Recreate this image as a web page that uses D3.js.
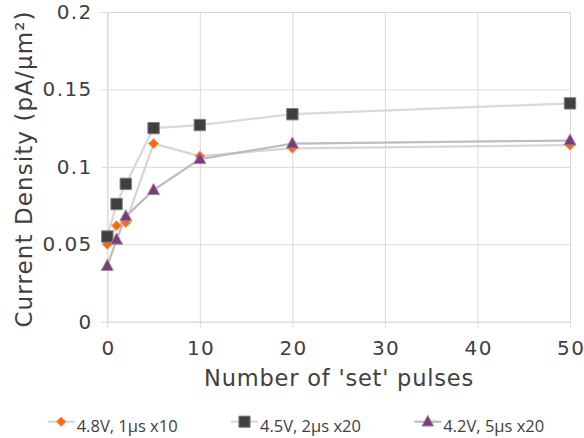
<!DOCTYPE html>
<html>
<head>
<meta charset="utf-8">
<script src="https://cdn.jsdelivr.net/npm/d3@7/dist/d3.min.js"></script>
<style>
  html, body { margin: 0; padding: 0; background: #fff; }
  svg { display: block; }
</style>
</head>
<body>
<svg id="chart" width="584" height="438"></svg>
<script>
// ---- data ----
const pulses = [0, 1, 2, 5, 10, 20, 50];
const seriesNames = ["4.8V, 1\u00b5s x10", "4.5V, 2\u00b5s x20", "4.2V, 5\u00b5s x20"];
const v48 = [0.050, 0.062, 0.064, 0.115, 0.107, 0.112, 0.114];
const v45 = [0.055, 0.076, 0.089, 0.125, 0.127, 0.134, 0.141];
const v42 = [0.036, 0.053, 0.068, 0.085, 0.105, 0.115, 0.117];
const xTicks = [0, 10, 20, 30, 40, 50];
const yTicks = [0, 0.05, 0.1, 0.15, 0.2];
const yTickLabels = ["0", "0.05", "0.1", "0.15", "0.2"];
const xTitle = "Number of 'set' pulses";
const yTitle = "Current Density (pA/\u00b5m\u00b2)";

(function () {
// ---- layout ----
const svg = d3.select("#chart");
const pLeft = 107.3, pRight = 570, pTop = 12, pBottom = 321.7;
const x = d3.scaleLinear().domain([0, 50]).range([pLeft, pRight]);
const y = d3.scaleLinear().domain([0, 0.2]).range([pBottom, pTop]);

const gridColor = "#d9d9d9";
const textColor = "#404040";
const axisFont = "'DejaVu Sans', Verdana, sans-serif";

// grid
const gx = svg.append("g").attr("transform", `translate(0,${pBottom})`)
  .call(d3.axisBottom(x).tickValues(xTicks).tickSize(-(pBottom - pTop)).tickSizeOuter(0).tickFormat(""));
const gy = svg.append("g").attr("transform", `translate(${pLeft},0)`)
  .call(d3.axisLeft(y).tickValues(yTicks).tickSize(-(pRight - pLeft)).tickSizeOuter(0).tickFormat(""));
[gx, gy].forEach(g => {
  g.select(".domain").remove();
  g.selectAll("line").attr("stroke", gridColor).attr("stroke-width", 1);
});

// axes with outward ticks and labels
const ax = svg.append("g").attr("transform", `translate(0,${pBottom})`)
  .call(d3.axisBottom(x).tickValues(xTicks).tickSize(6).tickSizeOuter(0).tickPadding(13).tickFormat(d3.format("d")));
const ay = svg.append("g").attr("transform", `translate(${pLeft},0)`)
  .call(d3.axisLeft(y).tickValues(yTicks).tickSize(6).tickSizeOuter(0).tickPadding(10)
    .tickFormat((d, i) => yTickLabels[i]));
[ax, ay].forEach(g => {
  g.select(".domain").attr("stroke", gridColor);
  g.selectAll("line").attr("stroke", gridColor);
  g.selectAll("text").attr("fill", textColor).style("font-family", axisFont)
    .style("font-size", "20px").style("letter-spacing", "1.4px");
});
ax.selectAll("text").attr("dx", "0.7px");
ay.selectAll("text").attr("dx", "1.4px");

// titles
svg.append("text")
  .attr("x", (205 + 473) / 2).attr("y", 386)
  .attr("text-anchor", "middle")
  .attr("fill", textColor)
  .style("font-family", axisFont).style("font-size", "22.5px").style("letter-spacing", "0.8px")
  .text(xTitle);
svg.append("text")
  .attr("transform", "translate(32,169) rotate(-90)")
  .attr("text-anchor", "middle")
  .attr("fill", textColor)
  .style("font-family", axisFont).style("font-size", "23px").style("letter-spacing", "1.1px")
  .text(yTitle);

// markers
const diamond = s => `M0,${-s}L${s},0L0,${s}L${-s},0Z`;
const square = s => `M${-s},${-s}H${s}V${s}H${-s}Z`;
const triangle = s => `M0,${-s * 1.1}L${s},${s * 0.75}L${-s},${s * 0.75}Z`;

const series = [
  { name: seriesNames[0], values: v48, line: "#d6d6d6", fill: "#fc6a12", stroke: "#f0a070", shape: diamond, size: 5, lsize: 4.8 },
  { name: seriesNames[1], values: v45, line: "#d9d9d9", fill: "#404040", stroke: "#808080", shape: square, size: 5.7, lsize: 5.6 },
  { name: seriesNames[2], values: v42, line: "#bdbdbd", fill: "#7b3c7b", stroke: "#9a8a9a", shape: triangle, size: 6, lsize: 5.8 }
];

const lineGen = d3.line().x((d, i) => x(pulses[i])).y(d => y(d));

series.forEach(s => {
  svg.append("path")
    .attr("d", lineGen(s.values))
    .attr("fill", "none")
    .attr("stroke", s.line)
    .attr("stroke-width", 2.25);
});
series.forEach(s => {
  svg.append("g").selectAll("path").data(s.values).join("path")
    .attr("transform", (d, i) => `translate(${x(pulses[i])},${y(d)})`)
    .attr("d", s.shape(s.size))
    .attr("fill", s.fill)
    .attr("stroke", s.stroke)
    .attr("stroke-width", 1);
});

// legend
const legendY = 421.7;
series.forEach((s, i) => {
  const x0 = 47.7 + i * 183.3;
  const g = svg.append("g");
  g.append("line").attr("x1", x0).attr("x2", x0 + 27).attr("y1", legendY).attr("y2", legendY)
    .attr("stroke", s.line).attr("stroke-width", 2.25);
  g.append("path").attr("transform", `translate(${x0 + 13.5},${legendY})`)
    .attr("d", s.shape(s.lsize)).attr("fill", s.fill).attr("stroke", s.stroke).attr("stroke-width", 1);
  g.append("text").attr("x", x0 + 29).attr("y", 431.7)
    .attr("fill", textColor)
    .style("font-family", "'Open Sans', sans-serif").style("font-size", "16.5px")
    .text(s.name);
});
})();
</script>
</body>
</html>
